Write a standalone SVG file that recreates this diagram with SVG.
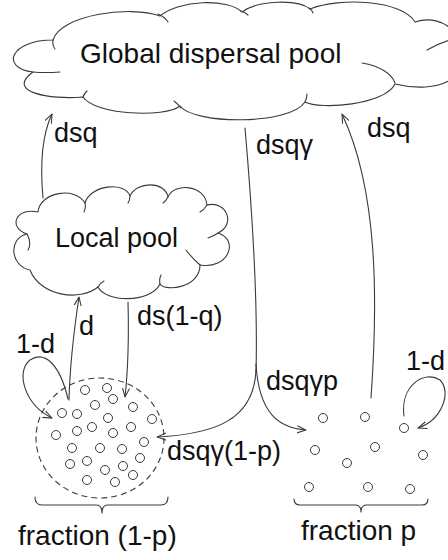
<svg xmlns="http://www.w3.org/2000/svg" width="448" height="560" viewBox="0 0 448 560">
<style>
  .ln{fill:none;stroke:#3a3a3a;stroke-width:1.1;stroke-linecap:round;stroke-linejoin:round}
  .dot{fill:none;stroke:#3a3a3a;stroke-width:1}
  .dash{fill:none;stroke:#3a3a3a;stroke-width:1.1;stroke-dasharray:6 4}
  .t{font-family:"Liberation Sans",Arial,sans-serif;fill:#111}
  .lab{font-size:27px}
  .arr{marker-end:url(#ah)}
</style>
<defs>
  <marker id="ah" viewBox="0 0 10 10" refX="10" refY="5" markerWidth="9" markerHeight="9" markerUnits="userSpaceOnUse" orient="auto">
    <path d="M0,1 L10,5 L0,9" fill="none" stroke="#3a3a3a" stroke-width="1.2"/>
  </marker>
</defs>
<rect width="448" height="560" fill="#fff"/>

<g id="global-pool">
  <path class="ln" d="M53,40 C60,15 130,5 160,16 C178,0 228,-2 242,12 C258,0 298,-1 310,9 C340,-3 402,0 415,22 C445,12 470,40 455,58 C470,75 440,95 395,84 C385,105 320,110 305,102 C290,125 195,125 180,106 C165,118 95,115 83,97 C50,100 5,92 33,72 C0,68 10,40 53,40 Z"/>
  <path class="ln" d="M53,40 Q52,45 55,49 M33,72 Q45,73 60,72 M83,97 Q84,94 87,91 M174,101 Q178,104 181,108 M305,102 Q307,98 307,94 M362,63 C380,66 392,74 395,83 M427,50 Q437,44 450,40 M158,14 Q165,17 168,22 M241,11 Q245,12 248,15 M309,8 Q312,10 313,13"/>
  <text class="t" x="80" y="63" font-size="28">Global dispersal pool</text>
</g>

<g id="local-pool">
  <path class="ln" d="M38,212 C40,192 75,186 85,203 C90,185 125,181 130,196 C137,181 165,181 168,197 C175,182 205,185 207,205 C227,200 236,225 218,233 C240,240 228,270 200,265 C200,288 165,292 160,284 C150,304 105,302 98,287 C80,302 40,296 30,270 C10,266 8,238 27,234 C8,228 15,207 38,212 Z"/>
  <path class="ln" d="M27,234 Q32,243 28,250 M85,203 Q86,208 84,212 M130,196 Q130,200 128,203 M168,197 Q166,201 163,203 M207,205 Q204,210 200,212 M218,233 Q214,236 208,238 M200,265 Q192,258 186,250 M160,284 Q159,279 161,275 M98,287 Q100,283 104,281"/>
  <text class="t" x="55" y="247" font-size="27">Local pool</text>
</g>

<g id="fraction-1-p">
  <ellipse class="dash" cx="100" cy="438" rx="64" ry="60"/>
  <g class="dot">
    <circle cx="85" cy="390" r="4.5"/><circle cx="107" cy="388" r="4.5"/>
    <circle cx="113" cy="399" r="4.5"/><circle cx="95" cy="405" r="4.5"/>
    <circle cx="133" cy="407" r="4.5"/><circle cx="62" cy="413" r="4.5"/>
    <circle cx="77" cy="414" r="4.5"/><circle cx="108" cy="418" r="4.5"/>
    <circle cx="152" cy="419" r="4.5"/><circle cx="56" cy="435" r="4.5"/>
    <circle cx="77" cy="431" r="4.5"/><circle cx="92" cy="427" r="4.5"/>
    <circle cx="113" cy="433" r="4.5"/><circle cx="131" cy="427" r="4.5"/>
    <circle cx="144" cy="442" r="4.5"/><circle cx="72" cy="448" r="4.5"/>
    <circle cx="100" cy="448" r="4.5"/><circle cx="122" cy="449" r="4.5"/>
    <circle cx="140" cy="458" r="4.5"/><circle cx="70" cy="464" r="4.5"/>
    <circle cx="87" cy="461" r="4.5"/><circle cx="105" cy="470" r="4.5"/>
    <circle cx="123" cy="466" r="4.5"/><circle cx="133" cy="475" r="4.5"/>
    <circle cx="87" cy="480" r="4.5"/><circle cx="115" cy="482" r="4.5"/>
  </g>
  <path class="ln" d="M35,497 Q35,505 42,505 L96,505 Q102,505 102,513 Q102,505 108,505 L161,505 Q168,505 168,497"/>
  <text class="t" x="18" y="545" font-size="28">fraction (1-p)</text>
</g>

<g id="fraction-p">
  <g class="dot">
    <circle cx="323" cy="418" r="4.5"/><circle cx="365" cy="417" r="4.5"/>
    <circle cx="404" cy="428" r="4.5"/><circle cx="315" cy="450" r="4.5"/>
    <circle cx="375" cy="447" r="4.5"/><circle cx="347" cy="463" r="4.5"/>
    <circle cx="423" cy="455" r="4.5"/><circle cx="309" cy="487" r="4.5"/>
    <circle cx="368" cy="487" r="4.5"/><circle cx="410" cy="489" r="4.5"/>
  </g>
  <path class="ln" d="M294,499 Q294,505 300,505 L355,505 Q361,505 361,512 Q361,505 367,505 L422,505 Q428,505 428,499"/>
  <text class="t" x="301" y="540" font-size="28">fraction p</text>
</g>

<g id="connectors">
  <path class="ln arr" d="M43,198 C40,165 42,135 52,114"/>
  <path class="ln arr" d="M69,400 C70,360 74,330 79,297"/>
  <path class="ln arr" d="M128,302 C129,340 128,370 125,397"/>
  <path class="ln arr" d="M68,399 C60,365 45,350 30,360 C15,372 25,405 52,418"/>
  <path class="ln" d="M245,128 C253,220 258,300 256,372"/>
  <path class="ln arr" d="M256,370 C254,420 215,434 157,437"/>
  <path class="ln arr" d="M256,364 C259,415 280,428 306,430"/>
  <path class="ln arr" d="M371,398 C378,300 378,190 342,114"/>
  <path class="ln arr" d="M404,416 C400,385 425,370 440,380 C452,392 442,420 418,428"/>
  <g class="t lab">
    <text x="54" y="142">dsq</text>
    <text x="256" y="154">dsqγ</text>
    <text x="367" y="137">dsq</text>
    <text x="79" y="335">d</text>
    <text x="16" y="353">1-d</text>
    <text x="137" y="325">ds(1-q)</text>
    <text x="266" y="390">dsqγp</text>
    <text x="406" y="370">1-d</text>
    <text x="167" y="460">dsqγ(1-p)</text>
  </g>
</g>
</svg>
